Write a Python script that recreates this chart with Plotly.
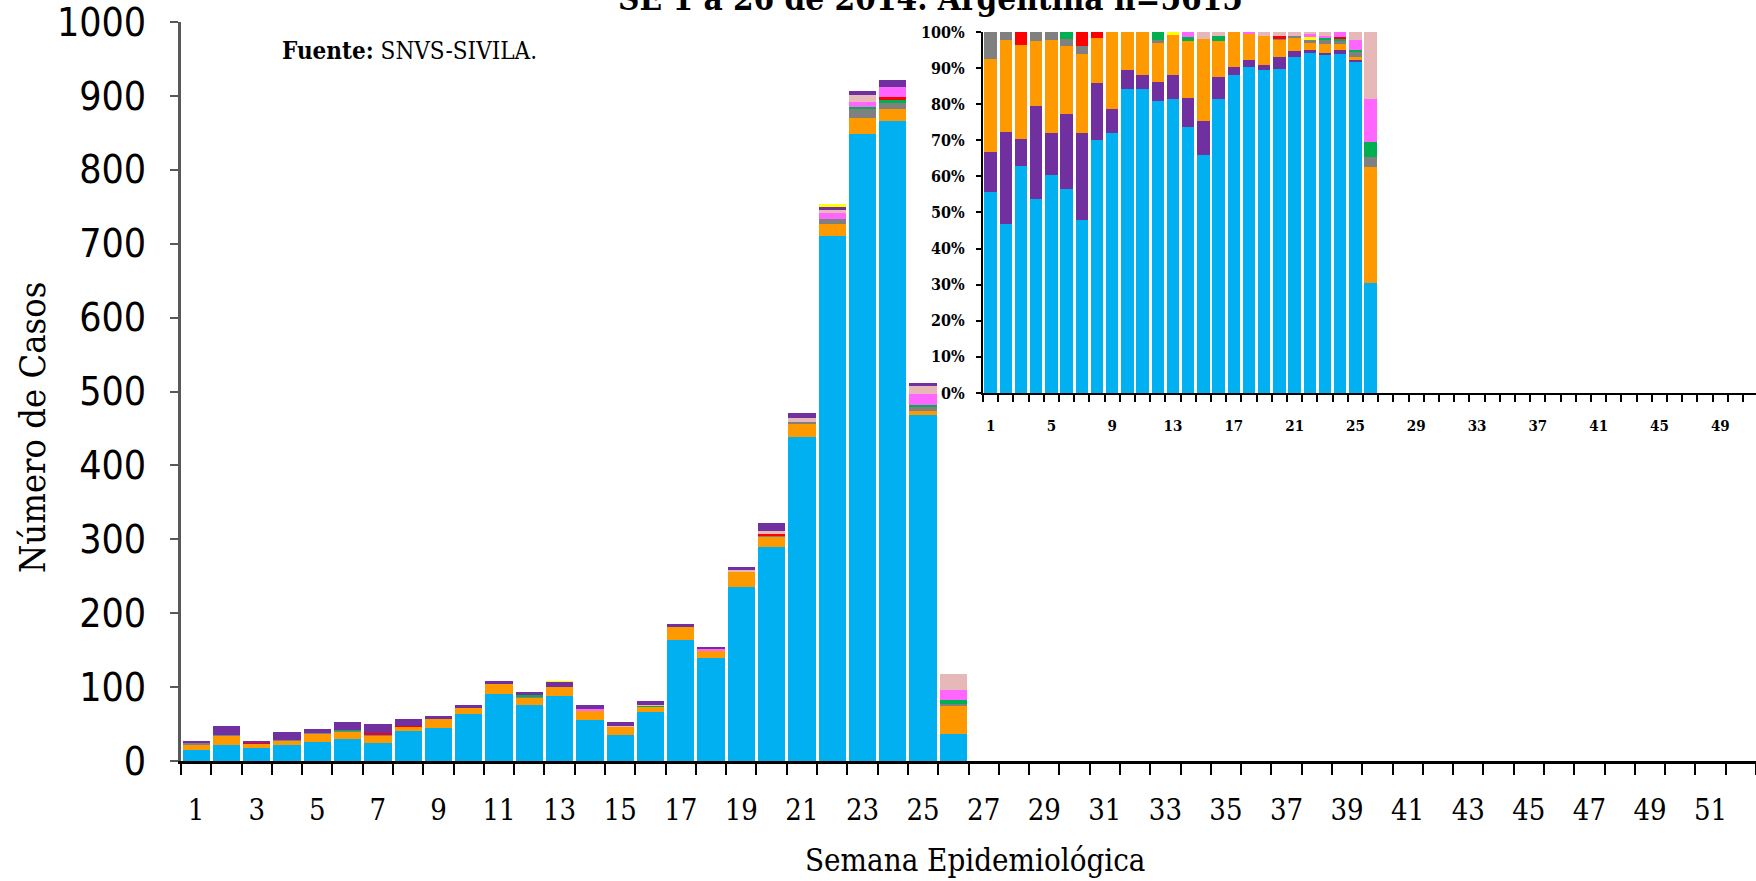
import plotly.graph_objects as go

weeks = list(range(1, 27))

# Counts per week (SE 1-26, 2014)
vsr        = [15, 22, 17, 21, 26, 30, 24, 40, 44, 64, 91, 76, 88, 56, 35, 66, 164, 139, 235, 289, 439, 711, 849, 866, 468, 36]
influenza_a = [7, 12, 7, 7, 11, 10, 11, 7, 13, 8, 13, 10, 12, 12, 12, 8, 18, 11, 21, 15, 18, 16, 21, 16, 5, 38]
parainfluenza = [3, 12, 2, 10, 5, 11, 12, 9, 4, 4, 4, 5, 7, 6, 5, 5, 4, 3, 4, 11, 7, 5, 5, 9, 3, 0]
adenovirus = [2, 1, 0, 1, 1, 1, 1, 0, 0, 0, 0, 1, 0, 0, 0, 0, 0, 0, 0, 1, 2, 7, 12, 8, 7, 3]
metapneumovirus = [0, 0, 0, 0, 0, 1, 0, 0, 0, 0, 0, 2, 0, 1, 0, 1, 0, 0, 0, 0, 0, 0, 3, 5, 2, 5]
influenza_b = [0, 0, 1, 0, 0, 0, 2, 1, 0, 0, 0, 0, 0, 0, 0, 0, 0, 0, 0, 2, 0, 0, 0, 3, 0, 0]
influenza_a_h3n2 = [0, 0, 0, 0, 0, 0, 0, 0, 0, 0, 0, 0, 1, 0, 0, 0, 0, 0, 0, 0, 0, 4, 0, 0, 0, 0]
influenza_a_h1n1 = [0, 0, 0, 0, 0, 0, 0, 0, 0, 0, 0, 0, 0, 1, 0, 0, 0, 1, 0, 0, 0, 7, 7, 14, 14, 14]
influenza_a_sin_subtipificar = [0, 0, 0, 0, 0, 0, 0, 0, 0, 0, 0, 0, 0, 0, 1, 1, 0, 0, 3, 4, 5, 4, 9, 0, 12, 22]

main_tick_labels = [str(w) for w in range(1, 53, 2)]
inset_tick_labels = [str(w) for w in range(1, 52, 4)]
y_ticks = list(range(0, 1001, 100))
pct_ticks = list(range(0, 101, 10))

series = {
    "VSR": (vsr, "#00B0F0"),
    "Parainfluenza": (parainfluenza, "#7030A0"),
    "Influenza A": (influenza_a, "#FF9900"),
    "Adenovirus": (adenovirus, "#808080"),
    "Metapneumovirus": (metapneumovirus, "#00B050"),
    "Influenza B": (influenza_b, "#FF0000"),
    "Influenza A H3N2": (influenza_a_h3n2, "#FFFF00"),
    "Influenza A H1N1": (influenza_a_h1n1, "#FF66FF"),
    "Influenza A sin subtipificar": (influenza_a_sin_subtipificar, "#E6B9B8"),
}

main_order = ["VSR", "Influenza A", "Adenovirus", "Metapneumovirus", "Influenza B",
              "Influenza A H1N1", "Influenza A sin subtipificar", "Parainfluenza", "Influenza A H3N2"]
inset_order = ["VSR", "Parainfluenza", "Influenza A", "Adenovirus", "Metapneumovirus",
               "Influenza B", "Influenza A H3N2", "Influenza A H1N1", "Influenza A sin subtipificar"]

totals = [sum(s[0][i] for s in series.values()) for i in range(len(weeks))]

fig = go.Figure()
for name in main_order:
    vals, col = series[name]
    fig.add_trace(go.Bar(x=weeks, y=vals, name=name, marker=dict(color=col, line=dict(width=0)),
                         width=0.9, xaxis="x", yaxis="y", showlegend=False))
for name in inset_order:
    vals, col = series[name]
    pct = [v / t * 100 for v, t in zip(vals, totals)]
    fig.add_trace(go.Bar(x=weeks, y=pct, name=name, marker=dict(color=col, line=dict(width=0)),
                         width=0.82, xaxis="x2", yaxis="y2", showlegend=False))

serif_c = "DejaVu Serif Condensed"

fig.update_layout(
    width=1756, height=881,
    margin=dict(l=181, r=0, t=22, b=120),
    barmode="stack",
    plot_bgcolor="white", paper_bgcolor="white",
    xaxis=dict(domain=[0, 1], range=[0.5, 52.5], tickmode="array",
               tickvals=list(range(1, 53, 2)), ticktext=main_tick_labels,
               ticks="", showgrid=False, zeroline=False,
               showline=True, linecolor="black", linewidth=3,
               tickfont=dict(family=serif_c, size=29, color="black"),
               ticklabelstandoff=21, automargin=False, ticklabeloverflow="allow",
               minor=dict(tickmode="linear", tick0=0.5, dtick=1, ticks="outside",
                          ticklen=11, tickwidth=2, tickcolor="black", showgrid=False)),
    yaxis=dict(domain=[0, 1], range=[0, 1000], tickmode="array", tickvals=y_ticks,
               ticks="outside", ticklen=8, tickwidth=2, tickcolor="#595959",
               showgrid=False, zeroline=False, showline=True, linecolor="#595959", linewidth=3,
               tickfont=dict(family="DejaVu Sans Condensed", size=39, color="black"),
               ticklabelstandoff=16, automargin=False, ticklabeloverflow="allow"),
    xaxis2=dict(domain=[0.5092, 1], range=[0.5, 51.35], anchor="y2", tickmode="array",
                tickvals=list(range(1, 52, 4)), ticktext=inset_tick_labels,
                ticks="", showgrid=False, zeroline=False,
                showline=True, linecolor="black", linewidth=2,
                tickfont=dict(family=serif_c, size=15, color="black", weight="bold"),
                ticklabelstandoff=18, automargin=False, ticklabeloverflow="allow",
                minor=dict(tickmode="linear", tick0=0.5, dtick=1, ticks="outside",
                           ticklen=7, tickwidth=1.5, tickcolor="black", showgrid=False)),
    yaxis2=dict(domain=[0.498, 0.9865], range=[0, 100], anchor="x2", tickmode="array",
                tickvals=pct_ticks, ticktext=[f"{v}%" for v in pct_ticks],
                ticks="outside", ticklen=5, tickwidth=1.5, tickcolor="black",
                showgrid=False, zeroline=False, showline=True, linecolor="black", linewidth=2,
                tickfont=dict(family=serif_c, size=16, color="black", weight="bold"),
                ticklabelstandoff=8, automargin=False, ticklabeloverflow="allow"),
    annotations=[
        dict(text="<b>SE 1 a 26 de 2014. Argentina n=5615</b>", xref="paper", yref="paper",
             x=0.4756, y=1, xanchor="center", yanchor="bottom", yshift=2, showarrow=False,
             font=dict(family=serif_c, size=33, color="black")),
        dict(text="<b>Fuente:</b> SNVS-SIVILA.", xref="paper", yref="paper",
             x=0.0629, y=0.962, xanchor="left", yanchor="middle", showarrow=False,
             font=dict(family=serif_c, size=24, color="black")),
        dict(text="Número de Casos", xref="paper", yref="paper", x=-0.0946, y=0.4506,
             xanchor="center", yanchor="middle", textangle=-90, showarrow=False,
             font=dict(family=serif_c, size=36, color="black")),
        dict(text="Semana Epidemiológica", xref="paper", yref="paper", x=0.504, y=-0.134,
             xanchor="center", yanchor="middle", showarrow=False,
             font=dict(family=serif_c, size=31, color="black")),
    ],
)

fig.write_html("out.html", config={"displayModeBar": False},
               post_script="document.body.style.margin='0';")
